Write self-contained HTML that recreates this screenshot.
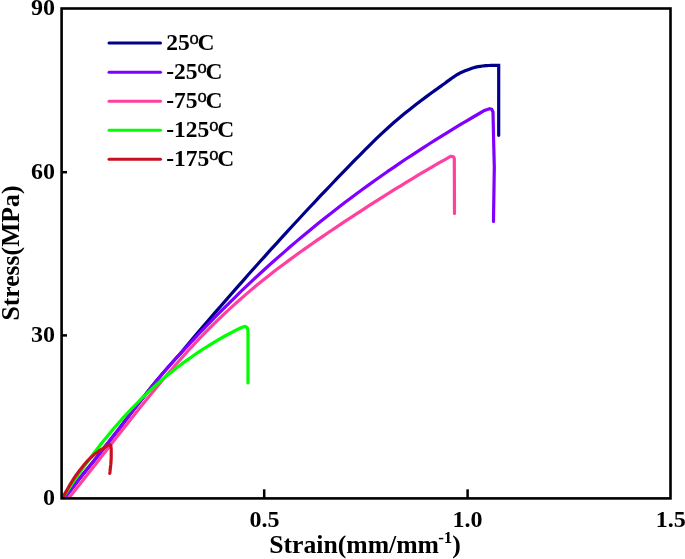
<!DOCTYPE html>
<html>
<head>
<meta charset="utf-8">
<title>Stress-Strain</title>
<style>
html,body{margin:0;padding:0;background:#fff;}
body{width:685px;height:559px;overflow:hidden;}
svg{display:block;}
text{font-family:"Liberation Serif","Times New Roman",serif;font-weight:bold;fill:#000;}
.tk{font-size:24px;}
.ax{font-size:25.7px;}
.lg{font-size:23.5px;}
.c{fill:none;stroke-width:3.2;stroke-linejoin:round;stroke-linecap:round;}
</style>
</head>
<body>
<svg width="685" height="559" viewBox="0 0 685 559">
<rect x="0" y="0" width="685" height="559" fill="#fff"/>
<defs><clipPath id="plot"><rect x="61.6" y="8.5" width="608.9" height="489.9"/></clipPath></defs>

<!-- curves -->
<g clip-path="url(#plot)">
<polyline class="c" stroke="#00008b" style="stroke-linejoin:miter" points="65.4,496.8 71.5,489.0 77.5,481.3 83.6,473.6 89.7,466.0 95.8,458.4 101.8,450.7 107.9,443.0 114.0,435.3 120.1,427.4 126.1,419.5 132.2,411.6 138.3,403.7 144.4,395.9 150.4,388.2 156.5,380.7 162.6,373.5 168.7,366.5 174.7,359.7 180.8,353.1 187.0,345.5 192.6,338.9 198.1,332.4 203.7,325.9 209.3,319.4 214.8,312.9 220.4,306.5 226.0,300.1 231.5,293.7 237.1,287.4 242.7,281.1 248.2,274.8 253.8,268.5 259.4,262.3 265.0,256.1 270.5,249.9 276.1,243.8 281.7,237.7 287.2,231.6 292.8,225.5 298.4,219.5 303.9,213.5 309.5,207.5 315.1,201.6 320.6,195.7 326.2,189.8 331.8,184.0 337.3,178.1 342.9,172.4 348.5,166.6 354.0,160.9 359.6,155.3 365.2,149.7 370.8,144.1 376.3,138.7 381.9,133.4 387.5,128.3 393.0,123.3 398.6,118.5 404.2,113.8 409.7,109.4 415.3,105.0 420.9,100.7 426.4,96.6 432.0,92.5 433.1,91.7 434.6,90.6 436.4,89.4 438.0,88.2 439.5,87.1 441.0,86.1 442.4,85.0 443.9,84.0 445.3,83.0 446.7,81.9 448.1,80.9 449.5,79.9 450.8,78.9 452.1,78.0 453.4,77.1 454.7,76.2 455.9,75.4 457.1,74.7 458.3,74.0 459.5,73.3 460.6,72.7 461.7,72.2 463.0,71.7 464.5,71.1 466.5,70.3 468.8,69.4 471.2,68.5 473.5,67.7 475.8,67.1 478.1,66.7 480.4,66.3 482.4,66.0 484.1,65.8 485.5,65.7 486.9,65.6 488.7,65.5 491.2,65.4 494.1,65.4 496.8,65.3 498.7,65.3 498.7,135.3"/>
<polyline class="c" stroke="#8000ff" points="65.4,496.8 71.5,489.0 77.5,481.3 83.6,473.6 89.7,466.0 95.8,458.4 101.8,450.7 107.9,443.0 114.0,435.3 120.1,427.4 126.1,419.5 132.2,411.6 138.3,403.7 144.4,395.9 150.4,388.2 156.5,380.7 162.6,373.5 168.7,366.5 174.7,359.7 180.8,353.1 186.9,346.6 193.0,340.1 199.0,333.7 205.1,327.4 211.2,321.1 217.2,314.9 223.3,308.8 229.4,302.8 235.5,296.8 241.5,290.9 247.6,285.2 253.7,279.4 259.8,273.8 265.8,268.3 271.9,262.8 278.0,257.4 284.1,252.1 290.1,246.8 296.2,241.6 302.3,236.5 308.4,231.5 314.4,226.5 320.5,221.6 326.6,216.8 332.7,212.0 338.7,207.3 344.8,202.6 350.9,198.0 356.9,193.5 363.0,189.0 369.1,184.6 375.2,180.3 381.2,176.0 387.3,171.7 393.4,167.6 399.5,163.4 405.5,159.3 411.6,155.3 417.7,151.3 423.8,147.4 429.8,143.5 435.9,139.6 442.0,135.8 448.1,132.1 454.1,128.4 460.2,124.7 466.3,121.1 472.4,117.5 478.4,114.0 484.5,110.4 489.6,108.7 491.8,109.3 493.0,112.0 493.5,135.2 494.3,167.4 493.8,200.0 493.5,221.4"/>
<polyline class="c" stroke="#ff40a0" points="68.5,498.5 74.0,491.6 79.6,484.6 85.1,477.5 90.6,470.5 96.2,463.4 101.7,456.3 107.3,449.2 112.8,442.1 118.3,435.0 123.9,428.0 129.4,421.0 134.9,414.0 140.5,407.1 146.0,400.2 151.5,393.4 157.1,386.7 162.6,380.0 168.2,373.5 173.7,367.0 179.2,360.7 184.8,354.5 190.3,348.3 195.8,342.4 201.4,336.5 206.9,330.8 212.4,325.3 218.0,319.9 223.5,314.6 229.1,309.4 234.6,304.4 240.1,299.5 245.7,294.6 251.2,289.9 256.7,285.3 262.3,280.8 267.8,276.4 273.3,272.1 278.9,267.8 284.4,263.7 289.9,259.6 295.5,255.5 301.0,251.5 306.6,247.6 312.1,243.7 317.6,239.9 323.2,236.1 328.7,232.3 334.2,228.6 339.8,224.9 345.3,221.2 350.8,217.6 356.4,213.9 361.9,210.3 367.5,206.7 373.0,203.2 378.5,199.6 384.1,196.1 389.6,192.7 395.1,189.2 400.7,185.8 406.2,182.4 411.7,179.1 417.3,175.7 422.8,172.4 428.4,169.2 433.9,165.9 439.4,162.7 445.0,159.6 450.5,156.4 452.3,156.5 453.8,157.1 454.3,158.8 454.5,213.5"/>
<polyline class="c" stroke="#00ff00" points="63.0,497.6 67.6,490.6 72.2,483.6 76.7,476.9 81.3,470.3 85.9,464.0 90.5,457.7 95.0,451.7 99.6,445.7 104.2,440.0 108.8,434.4 113.3,429.0 117.9,423.7 122.5,418.5 127.1,413.5 131.7,408.7 136.2,404.0 140.8,399.4 145.4,394.9 150.0,390.6 154.5,386.4 159.1,382.3 163.7,378.4 168.3,374.6 172.8,370.9 177.4,367.3 182.0,363.8 186.6,360.4 191.2,357.2 195.7,354.0 200.3,350.9 204.9,348.0 209.5,345.1 214.0,342.3 218.6,339.6 223.2,337.0 227.8,334.5 232.3,332.1 236.9,329.7 241.5,327.5 245.1,326.4 247.2,327.6 248.0,331.0 248.0,383.0"/>
<polyline class="c" stroke="#c8101e" points="63.0,497.0 64.1,495.1 65.6,492.4 67.4,489.2 69.2,486.1 70.8,483.4 72.1,481.3 73.3,479.4 74.4,477.6 75.7,475.8 77.2,473.7 79.0,471.3 81.0,468.7 83.1,466.1 85.2,463.5 87.3,461.2 89.3,459.1 91.3,457.2 93.3,455.4 95.2,453.8 97.0,452.4 98.6,451.2 100.1,450.2 101.5,449.3 102.8,448.5 104.0,447.8 105.0,447.1 105.9,446.6 106.7,446.1 107.4,445.7 108.0,445.3 108.5,445.0 108.9,444.8 109.2,444.6 109.5,444.5 109.8,444.6 110.1,444.8 110.3,445.0 110.6,445.4 110.7,445.8 110.9,446.5 111.0,447.3 111.1,448.2 111.2,449.3 111.2,450.6 111.2,452.0 111.2,453.7 111.2,455.6 111.2,457.7 111.1,459.8 111.0,462.0 110.8,464.4 110.5,467.0 110.2,469.5 110.0,471.7 109.8,473.3"/>
</g>

<!-- frame -->
<rect x="61.6" y="8.5" width="608.9" height="489.9" fill="none" stroke="#000" stroke-width="2.6"/>
<!-- ticks -->
<g stroke="#000" stroke-width="2.5">
<line x1="61.7" y1="172.2" x2="67" y2="172.2"/>
<line x1="61.7" y1="335.4" x2="67" y2="335.4"/>
<line x1="264.2" y1="498" x2="264.2" y2="489.3"/>
<line x1="467.6" y1="498" x2="467.6" y2="489.3"/>
</g>

<!-- y tick labels -->
<g class="tk" text-anchor="end">
<text x="55" y="15.1">90</text>
<text x="55" y="178.8">60</text>
<text x="55" y="342.0">30</text>
<text x="55" y="505.3">0</text>
</g>
<!-- x tick labels -->
<g class="tk" text-anchor="middle">
<text x="264.4" y="526.8">0.5</text>
<text x="467.6" y="526.8">1.0</text>
<text x="670.7" y="526.8">1.5</text>
</g>

<!-- axis titles -->
<text class="ax" x="269.2" y="553">Strain(mm/mm<tspan font-size="17" dy="-10.3" dx="-0.8">-1</tspan><tspan dy="10.3" dx="-0.2">)</tspan></text>
<text class="ax" transform="translate(18.9,320.6) rotate(-90)">Stress(MPa)</text>

<!-- legend -->
<g stroke-width="3" stroke-linecap="round" fill="none">
<line x1="109" y1="43" x2="160.5" y2="43" stroke="#00008b"/>
<line x1="109" y1="72.3" x2="160.5" y2="72.3" stroke="#8000ff"/>
<line x1="109" y1="101.2" x2="160.5" y2="101.2" stroke="#ff40a0"/>
<line x1="109" y1="130.2" x2="160.5" y2="130.2" stroke="#00ff00"/>
<line x1="109" y1="159.2" x2="160.5" y2="159.2" stroke="#c8101e"/>
</g>
<g class="lg">
<text x="166.3" y="50.1">25<tspan font-size="18.5" font-weight="normal" stroke="#000" stroke-width="0.45" dy="-6.6" dx="-0.2">o</tspan><tspan dy="6.6" dx="-1.3">C</tspan></text>
<text x="166.3" y="79.4">-25<tspan font-size="18.5" font-weight="normal" stroke="#000" stroke-width="0.45" dy="-6.6" dx="-0.2">o</tspan><tspan dy="6.6" dx="-1.3">C</tspan></text>
<text x="166.3" y="108.3">-75<tspan font-size="18.5" font-weight="normal" stroke="#000" stroke-width="0.45" dy="-6.6" dx="-0.2">o</tspan><tspan dy="6.6" dx="-1.3">C</tspan></text>
<text x="166.3" y="137.3">-125<tspan font-size="18.5" font-weight="normal" stroke="#000" stroke-width="0.45" dy="-6.6" dx="-0.2">o</tspan><tspan dy="6.6" dx="-1.3">C</tspan></text>
<text x="166.3" y="166.3">-175<tspan font-size="18.5" font-weight="normal" stroke="#000" stroke-width="0.45" dy="-6.6" dx="-0.2">o</tspan><tspan dy="6.6" dx="-1.3">C</tspan></text>
</g>
</svg>
</body>
</html>
